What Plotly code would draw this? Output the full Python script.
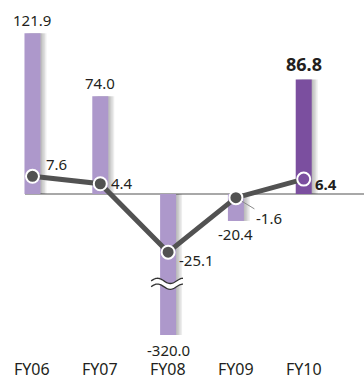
import numpy as np
import plotly.graph_objects as go

# Fiscal years and the two series
years = ["FY06", "FY07", "FY08", "FY09", "FY10"]
bar_values = [121.9, 74.0, -320.0, -20.4, 86.8]
line_values = [7.6, 4.4, -25.1, -1.6, 6.4]
bar_labels = ["121.9", "74.0", "-320.0", "-20.4", "86.8"]
line_labels = ["7.6", "4.4", "-25.1", "-1.6", "6.4"]

LIGHT = "#ad98cb"
DARK = "#7b4f9f"
LINE = "#525252"
TEXT = "#231f20"
FONT = "Noto Sans"

# axis ranges (both share the same zero); the big negative bar is cut by the axis
y1_range = [-106.8, 147.0]
y2_range = [-60.8, 83.6]
x_range = [-0.479, 4.889]
break_value = -68.0  # where the axis break symbol sits on the FY08 bar

bar_w = 0.236
bar_colors = [LIGHT, LIGHT, LIGHT, LIGHT, DARK]

fig = go.Figure()

# soft drop shadow to the right of each bar
for k in range(1, 5):
    fig.add_trace(go.Bar(
        x=years, y=bar_values, width=bar_w, offset=-bar_w / 2 + k * 0.022,
        marker=dict(color="rgba(0,0,0,0.07)", line=dict(width=0)),
        hoverinfo="skip", showlegend=False, yaxis="y",
    ))

fig.add_trace(go.Bar(
    x=years, y=bar_values, width=bar_w, offset=-bar_w / 2,
    marker=dict(color=bar_colors, line=dict(width=0)),
    showlegend=False, yaxis="y",
))

marker_fill = [LINE, LINE, LINE, LINE, DARK]
fig.add_trace(go.Scatter(
    x=years, y=line_values, mode="lines+markers", yaxis="y2",
    line=dict(color=LINE, width=5),
    marker=dict(size=13, color=marker_fill, line=dict(color="white", width=2)),
    showlegend=False,
))

annotations = []
# bar value labels
for i, (yr, v, t) in enumerate(zip(years, bar_values, bar_labels)):
    bold = i == len(years) - 1
    font = dict(family=FONT, size=18 if bold else 15, color=TEXT)
    txt = f"<b>{t}</b>" if bold else t
    if i == 2:
        annotations.append(dict(x=yr, y=0, xref="x", yref="paper", text=txt,
                                showarrow=False, yanchor="middle", yshift=-15, font=font))
    elif v >= 0:
        annotations.append(dict(x=yr, y=v, xref="x", yref="y", text=txt,
                                showarrow=False, yanchor="bottom", yshift=1, font=font))
    else:
        annotations.append(dict(x=yr, y=v, xref="x", yref="y", text=txt,
                                showarrow=False, yanchor="top", yshift=-1, font=font))

# line value labels (pixel offsets from each point)
offsets = [(24, 12), (22, 1), (28, -8), None, (22, -5)]
for i, (yr, v, t) in enumerate(zip(years, line_values, line_labels)):
    bold = i == len(years) - 1
    font = dict(family=FONT, size=15, color=TEXT)
    txt = f"<b>{t}</b>" if bold else t
    if offsets[i] is None:
        annotations.append(dict(x=yr, y=v, xref="x", yref="y2", text=txt,
                                showarrow=True, arrowhead=0, arrowwidth=1,
                                arrowcolor="#8a8a8a", ax=33, ay=20, standoff=7,
                                font=font))
    else:
        dx, dy = offsets[i]
        annotations.append(dict(x=yr, y=v, xref="x", yref="y2", text=txt,
                                showarrow=False, xshift=dx, yshift=dy, font=font))

# category labels under the chart
for yr in years:
    annotations.append(dict(x=yr, y=0, xref="x", yref="paper", text=yr,
                            showarrow=False, yanchor="middle", yshift=-34,
                            borderpad=0,
                            font=dict(family=FONT, size=16, color=TEXT)))

# axis break symbol across the FY08 bar: white band bounded by two waves
bx = np.linspace(2 - 0.25, 2 + 0.22, 40)
phase = (bx - bx[0]) / (bx[-1] - bx[0]) * 2 * np.pi * 1.25
amp = 2.0
half = 2.2
upper = break_value + half + amp * np.sin(phase)
lower = break_value - half + amp * np.sin(phase)
band = "M " + " L ".join(f"{a},{b}" for a, b in zip(bx, upper))
band += " L " + " L ".join(f"{a},{b}" for a, b in zip(bx[::-1], lower[::-1])) + " Z"
wave_u = "M " + " L ".join(f"{a},{b}" for a, b in zip(bx, upper))
wave_l = "M " + " L ".join(f"{a},{b}" for a, b in zip(bx, lower))

shapes = [
    dict(type="line", xref="x", yref="y", x0=-0.11, x1=x_range[1], y0=0, y1=0,
         line=dict(color="#a8a8a8", width=2), layer="below"),
    dict(type="path", xref="x", yref="y", path=band, fillcolor="white",
         line=dict(width=0)),
    dict(type="path", xref="x", yref="y", path=wave_u, line=dict(color="#333", width=1.3)),
    dict(type="path", xref="x", yref="y", path=wave_l, line=dict(color="#333", width=1.3)),
]

fig.update_layout(
    width=364, height=380,
    margin=dict(l=0, r=0, t=0, b=45),
    paper_bgcolor="white", plot_bgcolor="white",
    barmode="overlay",
    xaxis=dict(range=x_range, showticklabels=False, showgrid=False,
               zeroline=False, showline=False, ticks=""),
    yaxis=dict(range=y1_range, visible=False, showgrid=False, zeroline=False),
    yaxis2=dict(range=y2_range, visible=False, overlaying="y", showgrid=False,
                zeroline=False),
    annotations=annotations,
    shapes=shapes,
    font=dict(family=FONT, color=TEXT),
)

fig.write_html("out.html")
